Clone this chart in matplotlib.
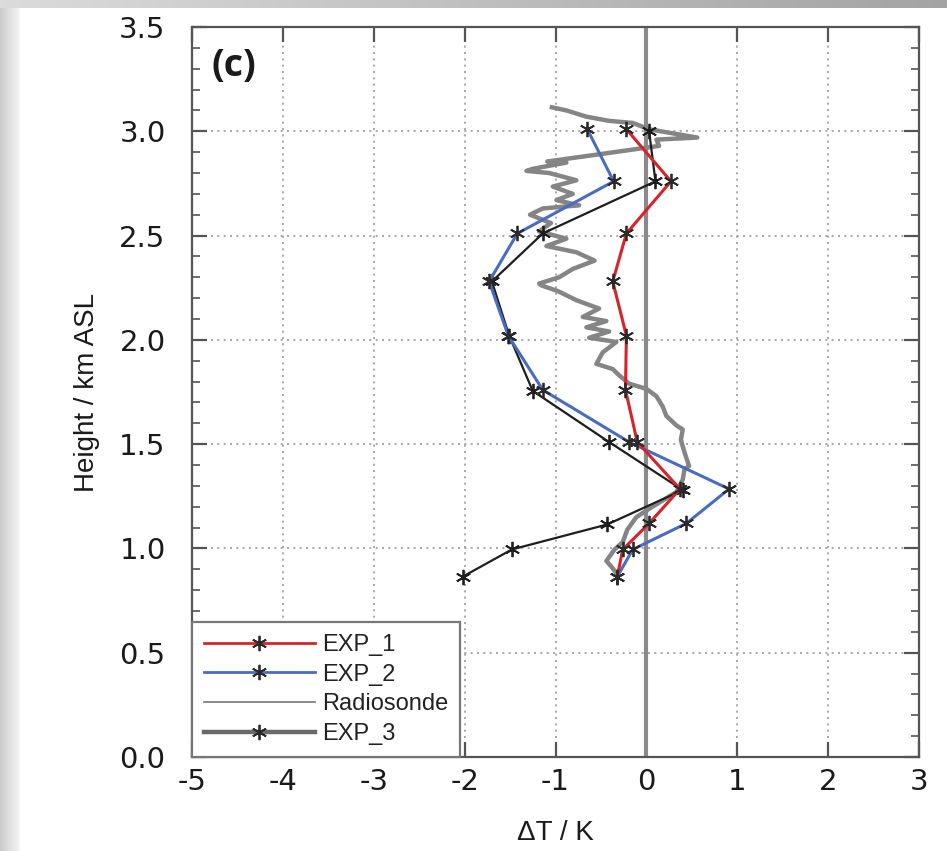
import numpy as np
import matplotlib
matplotlib.use("Agg")
import matplotlib.pyplot as plt
from matplotlib.lines import Line2D

# ---- data ----
heights_exp = [3.01, 2.76, 2.51, 2.28, 2.02, 1.76, 1.51, 1.285, 1.12, 0.995, 0.865]
exp1_dT = [-0.22, 0.27, -0.22, -0.37, -0.22, -0.23, -0.10, 0.37, 0.03, -0.26, -0.32]
exp2_dT = [-0.65, -0.36, -1.42, -1.73, -1.52, -1.14, -0.19, 0.91, 0.44, -0.15, -0.32]
exp3_heights = [3.00, 2.76, 2.51, 2.28, 2.02, 1.755, 1.51, 1.28, 1.115, 0.995, 0.865]
exp3_dT = [0.03, 0.10, -1.14, -1.70, -1.51, -1.25, -0.41, 0.40, -0.43, -1.48, -2.02]

sonde_h = [3.115, 3.10, 3.07, 3.05, 3.04, 3.01, 2.99, 2.97, 2.96, 2.93, 2.855, 2.85,
           2.82, 2.81, 2.80, 2.765, 2.735, 2.70, 2.67, 2.645, 2.63, 2.60, 2.56, 2.52,
           2.485, 2.45, 2.42, 2.38, 2.34, 2.30, 2.27, 2.26, 2.235, 2.19, 2.15, 2.11,
           2.09, 2.06, 2.04, 2.01, 1.99, 1.94, 1.885, 1.86, 1.83, 1.79, 1.765, 1.73,
           1.68, 1.635, 1.59, 1.57, 1.52, 1.46, 1.395, 1.38, 1.33, 1.27, 1.19, 1.15,
           1.09, 1.03, 0.995, 0.94, 0.91, 0.875]
sonde_dT = [-1.04, -0.88, -0.66, -0.41, -0.15, 0.03, 0.29, 0.56, 0.11, 0.14, -1.09, -0.88,
            -1.25, -1.32, -1.07, -0.77, -1.03, -0.81, -0.99, -0.74, -1.14, -1.28, -1.05, -1.18,
            -0.88, -1.10, -0.77, -0.57, -0.81, -0.96, -1.18, -1.15, -0.98, -0.77, -0.52, -0.70,
            -0.44, -0.66, -0.41, -0.63, -0.33, -0.48, -0.55, -0.37, -0.30, -0.19, 0.0, 0.11,
            0.18, 0.22, 0.33, 0.40, 0.38, 0.42, 0.47, 0.42, 0.40, 0.33, 0.03, -0.11,
            -0.21, -0.26, -0.35, -0.44, -0.38, -0.32]

xticks = [-5, -4, -3, -2, -1, 0, 1, 2, 3]
yticks = [0.0, 0.5, 1.0, 1.5, 2.0, 2.5, 3.0, 3.5]

W, H = 947, 851
fig = plt.figure(figsize=(W / 100, H / 100), dpi=100)

# screenshot-like frame (gray gradient strips)
bg = np.ones((H, W, 3))
xs = np.linspace(0, 1, W)
for i in range(20):
    bg[:, i, :] = 0.80 + 0.17 * (i / 20)
top = 0.86 - 0.22 * xs
bg[:8, :, :] = top[None, :, None]
bgax = fig.add_axes([0, 0, 1, 1], zorder=-10)
bgax.imshow(bg, aspect="auto", interpolation="nearest")
bgax.axis("off")

L, R, T, B = 192, 919, 27, 757
ax = fig.add_axes([L / W, 1 - B / H, (R - L) / W, (B - T) / H], zorder=1)
ax.set_facecolor("white")

c_grid = "#9a9a9a"
for xv in xticks:
    ax.axvline(xv, color=c_grid, lw=1.2, ls=(0, (1.2, 2.6)), zorder=1)
for yv in yticks:
    ax.axhline(yv, color=c_grid, lw=1.2, ls=(0, (1.2, 2.6)), zorder=1)
ax.axvline(0, color="#8a8a8a", lw=3, zorder=2)

mk = (6, 2, 0)
ax.plot(sonde_dT, sonde_h, color="#858585", lw=3.2, zorder=3, solid_joinstyle="round")
ax.plot(exp3_dT, exp3_heights, color="#1e1e1e", lw=1.6, marker=mk, ms=11, mew=1.3,
        mec="#1e1e1e", zorder=4)
ax.plot(exp2_dT, heights_exp, color="#4a6cc0", lw=2.2, marker=mk, ms=11, mew=1.3,
        mec="#2a2a2a", zorder=5)
ax.plot(exp1_dT, heights_exp, color="#d8232a", lw=2.2, marker=mk, ms=11, mew=1.3,
        mec="#2a2a2a", zorder=6)

ax.set_xlim(-5, 3)
ax.set_ylim(0, 3.5)
ax.set_xticks(xticks)
ax.set_xticklabels([str(v) for v in xticks])
ax.set_yticks(yticks)
ax.set_yticklabels([f"{v:.1f}" for v in yticks])
ax.set_yticks(np.arange(0, 3.51, 0.1), minor=True)

for s in ax.spines.values():
    s.set_color("#555555")
    s.set_linewidth(1.6)
ax.tick_params(axis="both", which="major", direction="in", length=11, width=1.6,
               color="#555555", top=True, right=True, labelsize=21,
               labelcolor="#1a1a1a")
ax.tick_params(axis="x", which="major", pad=8)
ax.tick_params(axis="y", which="major", pad=19)
ax.tick_params(axis="y", which="minor", direction="in", length=6, width=1.2,
               color="#555555", right=True)
for lab in ax.get_xticklabels() + ax.get_yticklabels():
    lab.set_family("DejaVu Sans")

ax.set_xlabel("ΔT / K", fontsize=20, family="Liberation Sans",
              color="#1a1a1a", labelpad=17)
ax.set_ylabel("Height / km ASL", fontsize=20, family="Liberation Sans",
              color="#1a1a1a", labelpad=14)

ax.text(0.027, 0.972, "(c)", transform=ax.transAxes, fontsize=27, fontweight="bold",
        va="top", ha="left", family="Open Sans", color="#1a1a1a")

handles = [
    Line2D([], [], color="#d8232a", lw=2, marker=mk, ms=11, mew=1.3, mec="#2a2a2a"),
    Line2D([], [], color="#4a6cc0", lw=2, marker=mk, ms=11, mew=1.3, mec="#2a2a2a"),
    Line2D([], [], color="#777777", lw=1.2),
    Line2D([], [], color="#6a6a6a", lw=3.2, marker=mk, ms=11, mew=1.3, mec="#2a2a2a"),
]
labels = ["EXP_1", "EXP_2", "Radiosonde", "EXP_3"]
leg = ax.legend(handles, labels, loc="lower left", borderaxespad=0, fancybox=False,
                framealpha=1, edgecolor="#777777", handlelength=4.7, handletextpad=0.3,
                labelspacing=0.33, borderpad=0.5, markerfirst=True,
                prop={"family": "Liberation Sans", "size": 17})
leg.get_frame().set_linewidth(1.6)
leg.set_zorder(10)
for t in leg.get_texts():
    t.set_color("#222222")

fig.savefig("out.png", dpi=100)
